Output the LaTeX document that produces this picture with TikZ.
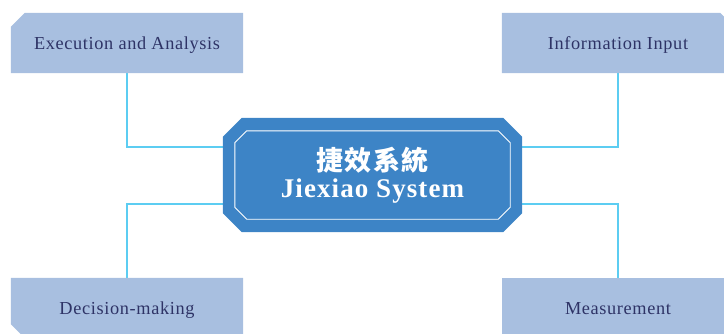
\documentclass[tikz,border=0pt]{standalone}
\usepackage{fontspec}
\setmainfont{Liberation Serif}
\newfontfamily\lblfont{Liberation Serif}[LetterSpace=3.5]
\newfontfamily\ctrfont{Liberation Serif}[LetterSpace=4]
\newfontfamily\cjkfont{Noto Sans CJK TC}[LetterSpace=6]
\usetikzlibrary{calc,backgrounds}
\definecolor{boxc}{HTML}{A8BFE0}
\definecolor{txtc}{HTML}{2E3366}
\definecolor{ctrc}{HTML}{3D84C6}
\definecolor{linec}{HTML}{5CCDF2}
\begin{document}
\begin{tikzpicture}[x=1pt,y=-1pt,
  lbl/.style={minimum width=232pt, minimum height=60pt, inner sep=0pt, text=txtc,
    text height=13pt, text depth=1pt, font=\lblfont\fontsize{18.3}{20}\selectfont},
  conn/.style={draw=linec, line width=2pt},
  boxfill/.style={fill=boxc},
  ctrfill/.style={fill=ctrc},
  ctrline/.style={draw=white, line width=0.9pt}]
\useasboundingbox (0,0) rectangle (724,333);
\clip (0,0) rectangle (724,333);
% label boxes
\node[lbl] (ea) at (127,43) {Execution and Analysis};
\node[lbl] (ii) at (618,43) {Information Input};
\node[lbl] (dm) at (127,308) {Decision-making};
\node[lbl] (ms) at (618,308) {Measurement};
% central node
\node[minimum width=299pt, minimum height=114pt, inner sep=0pt, text=white, align=center,
  font=\ctrfont\bfseries\fontsize{27}{27.5}\selectfont] (c) at (372.5,175)
  {{\cjkfont\bfseries\fontsize{27}{27.5}\selectfont 捷效系統}\\ Jiexiao System};
\begin{scope}[on background layer]
  % connectors
  \draw[conn] (ea.south) |- ($(c.west)+(0,-28)$);
  \draw[conn] (ii.south) |- ($(c.east)+(0,-28)$);
  \draw[conn] (dm.north) |- ($(c.west)+(0,29)$);
  \draw[conn] (ms.north) |- ($(c.east)+(0,29)$);
  % label box shapes
  \fill[boxfill] ($(ea.north west)+(14,0)$) -- (ea.north east) -- (ea.south east) -- (ea.south west) -- ($(ea.north west)+(0,14)$) -- cycle;
  \fill[boxfill] (ii.north west) -- ($(ii.north east)+(-14,0)$) -- ($(ii.north east)+(0,14)$) -- (ii.south east) -- (ii.south west) -- cycle;
  \fill[boxfill] (dm.north west) -- (dm.north east) -- (dm.south east) -- ($(dm.south west)+(14,0)$) -- ($(dm.south west)+(0,-14)$) -- cycle;
  \fill[boxfill] (ms.north west) -- (ms.north east) -- (ms.south east) -- (ms.south west) -- cycle;
  % central octagon
  \fill[ctrfill] ($(c.north west)+(19,0)$) -- ($(c.north east)+(-19,0)$) -- ($(c.north east)+(0,19)$) -- ($(c.south east)+(0,-19)$) -- ($(c.south east)+(-19,0)$) -- ($(c.south west)+(19,0)$) -- ($(c.south west)+(0,-19)$) -- ($(c.north west)+(0,19)$) -- cycle;
  \draw[ctrline] ($(c.north west)+(24,13)$) -- ($(c.north east)+(-24,13)$) -- ($(c.north east)+(-12,25)$) -- ($(c.south east)+(-12,-25)$) -- ($(c.south east)+(-24,-13)$) -- ($(c.south west)+(24,-13)$) -- ($(c.south west)+(12,-25)$) -- ($(c.north west)+(12,25)$) -- cycle;
\end{scope}
\end{tikzpicture}
\end{document}
